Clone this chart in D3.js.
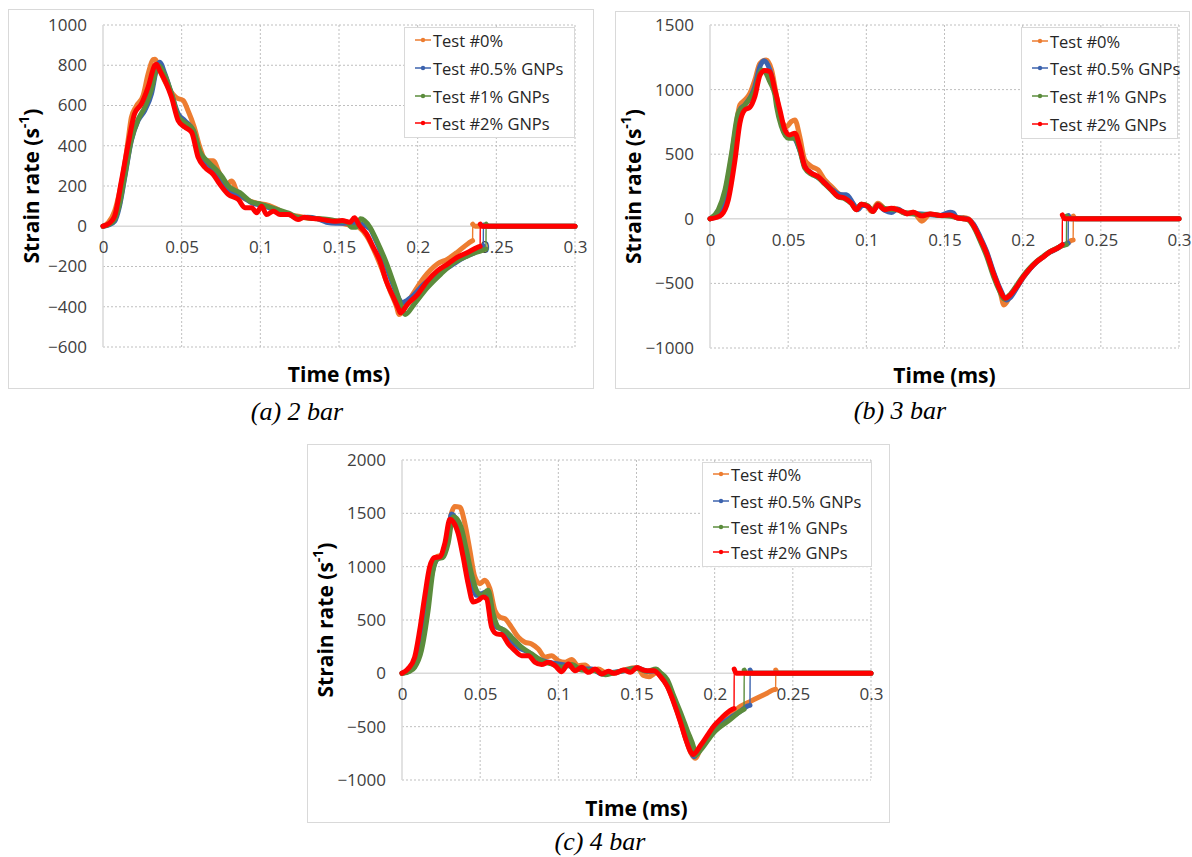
<!DOCTYPE html>
<html><head><meta charset="utf-8">
<script src="https://cdn.jsdelivr.net/npm/d3@7"></script>
<style>body{margin:0;background:#fff}svg{display:block}</style>
</head><body>
<svg id="c" width="1192" height="857"></svg>
<script>
const seriesNames = ["Test #0%", "Test #0.5% GNPs", "Test #1% GNPs", "Test #2% GNPs"];
const seriesColors = ["#ED7D31", "#3C63AE", "#5B8C3C", "#FF0000"];
const xTicks = [0, 0.05, 0.1, 0.15, 0.2, 0.25, 0.3];
const xTickLabels = ["0", "0.05", "0.1", "0.15", "0.2", "0.25", "0.3"];
const yTicksA = [1000, 800, 600, 400, 200, 0, -200, -400, -600];
const yTicksB = [1500, 1000, 500, 0, -500, -1000];
const yTicksC = [2000, 1500, 1000, 500, 0, -500, -1000];
const captions = ["(a) 2 bar", "(b) 3 bar", "(c) 4 bar"];
const xTitle = "Time (ms)";

// Panel (a) 2 bar
const a_0 = [[0,0],[0.0035,20],[0.0074,75],[0.0105,170],[0.0138,308],[0.016,430],[0.018,540],[0.021,595],[0.0255,650],[0.0287,758],[0.0318,828],[0.033,830],[0.036,775],[0.0414,690],[0.0467,638],[0.051,625],[0.054,575],[0.058,492],[0.0616,392],[0.0658,325],[0.070,325],[0.0743,258],[0.0786,208],[0.0817,225],[0.086,158],[0.0913,133],[0.0966,117],[0.103,108],[0.109,92],[0.118,58],[0.124,50],[0.13,40],[0.136,37],[0.142,30],[0.147,23],[0.152,15],[0.157,5],[0.16,3],[0.1675,-47],[0.176,-188],[0.1825,-322],[0.1868,-405],[0.188,-438],[0.1955,-355],[0.204,-255],[0.2125,-188],[0.219,-163],[0.225,-130],[0.2317,-88],[0.2349,-72],[0.235,10],[0.2365,0],[0.3,0]];
const a_05 = [[0,0],[0.004,8],[0.0074,25],[0.0105,100],[0.0138,242],[0.018,425],[0.0223,525],[0.0265,575],[0.0308,658],[0.034,780],[0.036,815],[0.0393,758],[0.0435,658],[0.0478,558],[0.052,525],[0.0573,475],[0.0616,358],[0.0669,308],[0.0732,258],[0.0796,175],[0.088,150],[0.0945,117],[0.103,100],[0.111,75],[0.118,60],[0.124,42],[0.13,45],[0.136,38],[0.142,20],[0.148,15],[0.155,15],[0.1598,15],[0.164,10],[0.1697,-13],[0.173,-63],[0.178,-155],[0.1835,-272],[0.189,-372],[0.190,-380],[0.1955,-355],[0.204,-288],[0.2125,-238],[0.221,-197],[0.2295,-155],[0.238,-122],[0.2417,-97],[0.2418,5],[0.243,0],[0.3,0]];
const a_1 = [[0,0],[0.004,10],[0.0074,35],[0.0105,110],[0.0138,250],[0.018,430],[0.0223,530],[0.0265,590],[0.0308,680],[0.0335,770],[0.035,800],[0.0393,750],[0.0435,660],[0.0478,545],[0.052,515],[0.0573,480],[0.0616,370],[0.0669,320],[0.0754,250],[0.0796,200],[0.087,167],[0.0945,120],[0.1,110],[0.106,95],[0.112,80],[0.118,65],[0.124,45],[0.13,42],[0.136,38],[0.142,35],[0.148,28],[0.155,22],[0.158,-5],[0.161,-5],[0.1637,37],[0.1697,-5],[0.174,-72],[0.1804,-188],[0.1857,-305],[0.190,-405],[0.192,-438],[0.1977,-388],[0.2062,-305],[0.2147,-238],[0.2232,-180],[0.2317,-147],[0.2402,-122],[0.2434,-113],[0.2435,10],[0.245,0],[0.3,0]];
const a_2 = [[0,0],[0.004,15],[0.0074,50],[0.0117,225],[0.016,408],[0.020,558],[0.0244,608],[0.0287,692],[0.033,800],[0.034,805],[0.036,775],[0.0403,708],[0.0435,642],[0.0478,525],[0.052,492],[0.0563,467],[0.0605,342],[0.0648,292],[0.070,258],[0.0743,208],[0.0796,158],[0.086,133],[0.0902,92],[0.0945,92],[0.0977,67],[0.1008,100],[0.104,58],[0.1083,75],[0.1125,58],[0.118,58],[0.124,33],[0.128,45],[0.132,40],[0.136,37],[0.142,30],[0.147,25],[0.152,28],[0.157,20],[0.1598,42],[0.163,3],[0.1675,-38],[0.1718,-105],[0.176,-172],[0.180,-272],[0.1847,-355],[0.188,-413],[0.189,-430],[0.1935,-388],[0.200,-338],[0.2062,-272],[0.2125,-222],[0.219,-188],[0.225,-155],[0.2317,-130],[0.238,-105],[0.2397,-100],[0.2398,10],[0.241,0],[0.3,0]];

// Panel (b) 3 bar
const b_0 = [[0,0],[0.004,30],[0.0074,95],[0.0117,327],[0.016,662],[0.0191,881],[0.0223,920],[0.0255,971],[0.0287,1075],[0.0319,1203],[0.036,1229],[0.0394,1152],[0.0426,946],[0.0457,765],[0.0489,714],[0.052,752],[0.0543,765],[0.0574,637],[0.0606,456],[0.0649,405],[0.0691,379],[0.0734,301],[0.0777,250],[0.0819,198],[0.0862,173],[0.0904,134],[0.0936,70],[0.0968,113],[0.100,108],[0.1032,57],[0.1074,121],[0.1128,70],[0.118,82],[0.1245,44],[0.130,51],[0.1355,-18],[0.1409,38],[0.1472,26],[0.1536,30],[0.1579,8],[0.1621,10],[0.1653,0],[0.1685,-45],[0.1728,-150],[0.177,-265],[0.1813,-420],[0.1855,-560],[0.188,-667],[0.192,-600],[0.1962,-530],[0.2004,-455],[0.2047,-385],[0.2089,-335],[0.2132,-295],[0.2174,-258],[0.2217,-232],[0.2249,-210],[0.2281,-192],[0.2313,-167],[0.2323,-165],[0.2324,20],[0.234,0],[0.3,0]];
const b_05 = [[0,0],[0.004,20],[0.0074,70],[0.0117,250],[0.016,585],[0.0191,843],[0.0223,881],[0.0287,1023],[0.0319,1178],[0.0347,1224],[0.0383,1152],[0.0426,920],[0.0468,688],[0.050,637],[0.0532,631],[0.0574,533],[0.0606,405],[0.0649,353],[0.0691,320],[0.0734,280],[0.0777,230],[0.084,186],[0.0872,186],[0.0915,121],[0.0947,70],[0.0975,105],[0.101,95],[0.1043,60],[0.1074,105],[0.1117,65],[0.116,49],[0.12,75],[0.1245,45],[0.13,40],[0.1355,38],[0.1409,32],[0.1472,26],[0.1536,51],[0.1558,45],[0.1579,8],[0.1621,5],[0.1653,-5],[0.1685,-40],[0.1728,-140],[0.177,-255],[0.1813,-410],[0.1855,-540],[0.1898,-628],[0.192,-610],[0.1962,-535],[0.2004,-452],[0.2047,-388],[0.2089,-335],[0.2132,-295],[0.2174,-258],[0.2217,-232],[0.2249,-207],[0.2291,-190],[0.2292,25],[0.231,0],[0.3,0]];
const b_1 = [[0,0],[0.0053,70],[0.0096,224],[0.0138,508],[0.018,817],[0.0223,881],[0.0287,997],[0.033,1152],[0.035,1140],[0.0383,1060],[0.0415,960],[0.0426,868],[0.0457,714],[0.050,624],[0.0543,624],[0.0574,533],[0.0606,392],[0.0649,345],[0.0691,320],[0.0734,270],[0.0777,220],[0.0819,170],[0.0862,155],[0.0904,118],[0.0936,72],[0.0968,112],[0.101,100],[0.1043,58],[0.1074,110],[0.1117,80],[0.116,72],[0.12,70],[0.1245,45],[0.13,38],[0.1355,30],[0.1409,35],[0.1472,25],[0.1536,20],[0.1579,10],[0.1621,0],[0.1653,-10],[0.1685,-60],[0.1728,-170],[0.177,-290],[0.1813,-445],[0.1855,-565],[0.188,-620],[0.192,-585],[0.1962,-515],[0.2004,-440],[0.2047,-378],[0.2089,-330],[0.2132,-290],[0.2174,-255],[0.2217,-228],[0.2249,-210],[0.228,-200],[0.2281,20],[0.2295,0],[0.3,0]];
const b_2 = [[0,0],[0.004,10],[0.0074,31],[0.0117,147],[0.016,456],[0.0191,740],[0.0223,843],[0.0255,863],[0.0287,946],[0.032,1113],[0.035,1147],[0.0383,1139],[0.0415,997],[0.0447,843],[0.0479,688],[0.051,649],[0.0543,662],[0.0574,559],[0.0606,405],[0.0649,353],[0.0691,327],[0.0734,276],[0.0777,224],[0.0819,173],[0.0862,160],[0.0904,121],[0.0936,70],[0.0968,113],[0.101,95],[0.1043,57],[0.1074,108],[0.1117,70],[0.116,82],[0.120,70],[0.1245,49],[0.126,38],[0.130,51],[0.1355,22],[0.1409,38],[0.1472,26],[0.1536,30],[0.1579,8],[0.1621,0],[0.1653,-5],[0.1685,-51],[0.1728,-154],[0.177,-269],[0.1813,-423],[0.1855,-551],[0.1887,-615],[0.192,-590],[0.1962,-526],[0.2004,-449],[0.2047,-385],[0.2089,-333],[0.2132,-295],[0.2174,-256],[0.2217,-231],[0.2249,-205],[0.2253,-200],[0.2254,30],[0.227,0],[0.3,0]];

// Panel (c) 4 bar
const c_0 = [[0,0],[0.003,15],[0.006,57],[0.0103,245],[0.0145,590],[0.0188,998],[0.022,1092],[0.0252,1108],[0.0284,1249],[0.0316,1500],[0.0338,1563],[0.037,1557],[0.0402,1406],[0.0434,1155],[0.0466,904],[0.0498,841],[0.053,873],[0.0562,794],[0.0594,590],[0.0626,527],[0.0658,512],[0.070,433],[0.0744,339],[0.0786,292],[0.0829,276],[0.0872,229],[0.0915,151],[0.0957,166],[0.100,119],[0.1043,104],[0.1085,129],[0.1128,72],[0.1171,78],[0.1214,25],[0.1256,41],[0.13,9],[0.1355,0],[0.1419,31],[0.1504,55],[0.1545,-20],[0.158,-31],[0.1632,10],[0.1654,-30],[0.1697,-120],[0.1739,-270],[0.1782,-455],[0.1814,-610],[0.1846,-740],[0.1878,-797],[0.191,-700],[0.1996,-521],[0.2081,-414],[0.2167,-307],[0.2231,-261],[0.2295,-215],[0.2338,-184],[0.238,-153],[0.239,-150],[0.2391,30],[0.2405,0],[0.3,0]];
const c_05 = [[0,0],[0.005,25],[0.0081,72],[0.0124,276],[0.0156,559],[0.0188,904],[0.022,1061],[0.0263,1108],[0.0295,1281],[0.0316,1494],[0.0348,1438],[0.038,1312],[0.0412,1092],[0.0444,873],[0.0476,731],[0.0509,747],[0.0541,763],[0.0573,527],[0.0605,433],[0.0637,417],[0.068,339],[0.0744,245],[0.0808,198],[0.0872,135],[0.0936,104],[0.1,88],[0.1064,72],[0.1128,41],[0.1214,41],[0.1278,-6],[0.1355,10],[0.1419,25],[0.1504,50],[0.1568,20],[0.1632,25],[0.1654,-25],[0.1697,-115],[0.1739,-260],[0.1782,-445],[0.1814,-600],[0.1846,-725],[0.1868,-782],[0.191,-690],[0.1996,-537],[0.2103,-414],[0.2167,-353],[0.2209,-307],[0.2226,-300],[0.2227,30],[0.224,0],[0.3,0]];
const c_1 = [[0,0],[0.005,20],[0.0081,57],[0.0124,213],[0.0167,590],[0.0199,967],[0.0231,1077],[0.0263,1086],[0.0295,1218],[0.0327,1469],[0.0348,1453],[0.038,1359],[0.0412,1155],[0.0444,935],[0.0476,778],[0.0509,731],[0.0551,778],[0.0583,559],[0.0615,433],[0.0658,402],[0.0701,339],[0.0765,245],[0.0829,182],[0.0893,119],[0.0957,88],[0.1021,57],[0.1085,82],[0.1149,31],[0.1235,25],[0.1299,-13],[0.1355,5],[0.1419,25],[0.1504,45],[0.1568,20],[0.1625,40],[0.1654,5],[0.1697,-60],[0.1739,-215],[0.1782,-368],[0.1825,-537],[0.1868,-705],[0.1878,-767],[0.191,-720],[0.1996,-552],[0.2103,-429],[0.2167,-353],[0.2188,-337],[0.2189,30],[0.2205,0],[0.3,0]];
const c_2 = [[0,0],[0.0038,41],[0.0081,151],[0.0113,402],[0.0145,716],[0.0177,998],[0.0209,1086],[0.0241,1092],[0.0274,1218],[0.0306,1444],[0.0327,1422],[0.0359,1312],[0.0391,1092],[0.0423,841],[0.0455,669],[0.0487,684],[0.0519,716],[0.0541,700],[0.0573,433],[0.0605,370],[0.0637,364],[0.068,276],[0.0722,213],[0.0765,166],[0.0808,166],[0.085,104],[0.0893,82],[0.0936,104],[0.0979,72],[0.1021,16],[0.1064,88],[0.1107,25],[0.115,57],[0.1192,9],[0.1235,41],[0.1278,-6],[0.132,20],[0.1355,0],[0.1419,31],[0.1462,10],[0.1504,55],[0.1545,30],[0.1568,25],[0.1611,25],[0.1654,-31],[0.1697,-123],[0.1739,-276],[0.1782,-460],[0.1814,-613],[0.1846,-736],[0.1862,-760],[0.191,-675],[0.1953,-583],[0.1996,-491],[0.2038,-429],[0.2081,-368],[0.2113,-337],[0.2124,-330],[0.2125,40],[0.214,0],[0.3,0]];

// ---------- layout ----------
const panels = [
  {series:[a_0,a_05,a_1,a_2], yTicks:yTicksA, yDom:[-600,1000], caption:captions[0],
   box:[8.5,9.5,585,379], plot:[103,575,25,347], legend:[404,27,170,110], rowY:[40,68,96,123],
   yTitleX:31, xTitleY:374, capX:297, capY:411},
  {series:[b_0,b_05,b_1,b_2], yTicks:yTicksB, yDom:[-1000,1500], caption:captions[1],
   box:[615.5,11.5,574,377], plot:[710,1179,25,348], legend:[1021,27,156,111], rowY:[41,68,96,124],
   yTitleX:633, xTitleY:375, capX:900, capY:410},
  {series:[c_0,c_05,c_1,c_2], yTicks:yTicksC, yDom:[-1000,2000], caption:captions[2],
   box:[307.5,444.5,582,378], plot:[402,871,460,780], legend:[702,462,169,104], rowY:[474,501,527,552],
   yTitleX:325, xTitleY:808, capX:600, capY:841}
];

const svg = d3.select("#c");
const font = "'Open Sans', 'Noto Sans', sans-serif";

panels.forEach(p => {
  const g = svg.append("g");
  g.append("rect").attr("x",p.box[0]).attr("y",p.box[1]).attr("width",p.box[2]).attr("height",p.box[3])
    .attr("fill","#fff").attr("stroke","#d9d9d9").attr("stroke-width",1);
  const [x0,x1,yT,yB] = p.plot;
  const x = d3.scaleLinear().domain([0,0.3]).range([x0,x1]);
  const y = d3.scaleLinear().domain(p.yDom).range([yB,yT]);

  // gridlines
  g.selectAll(".vg").data(xTicks.filter(t=>t!==0)).join("line")
    .attr("x1",d=>x(d)).attr("x2",d=>x(d)).attr("y1",yT).attr("y2",yB)
    .attr("stroke","#bfbfbf").attr("stroke-width",1).attr("stroke-dasharray","2,2");
  g.selectAll(".hg").data(p.yTicks.filter(t=>t!==0)).join("line")
    .attr("x1",x0).attr("x2",x1).attr("y1",d=>y(d)).attr("y2",d=>y(d))
    .attr("stroke","#bfbfbf").attr("stroke-width",1).attr("stroke-dasharray","2,2");
  // axis lines
  g.append("line").attr("x1",x0).attr("x2",x0).attr("y1",yT).attr("y2",yB).attr("stroke","#d9d9d9").attr("stroke-width",1.5);
  g.append("line").attr("x1",x0).attr("x2",x1).attr("y1",y(0)).attr("y2",y(0)).attr("stroke","#d9d9d9").attr("stroke-width",1.5);

  // y axis labels
  const ya = d3.axisLeft(y).tickValues(p.yTicks).tickSize(0).tickPadding(16).tickFormat(d3.format("d"));
  const yg = g.append("g").attr("transform",`translate(${x0},0)`).call(ya);
  yg.select(".domain").remove();
  yg.selectAll("text").attr("font-family",font).attr("font-size",17).attr("fill","#404040");
  // x axis labels at zero line
  const xa = d3.axisBottom(x).tickValues(xTicks).tickSize(0).tickPadding(15).tickFormat((d,i)=>xTickLabels[i]);
  const xg = g.append("g").attr("transform",`translate(0,${y(0)})`).call(xa);
  xg.select(".domain").remove();
  xg.selectAll("text").attr("font-family",font).attr("font-size",17).attr("fill","#404040");

  // series
  const line = d3.line().x(d=>x(d[0])).y(d=>y(d[1])).curve(d3.curveMonotoneX);
  p.series.forEach((s,i) => {
    g.append("path").attr("d",line(s)).attr("fill","none").attr("stroke",seriesColors[i]).attr("stroke-width",1.4);
    const segs = []; let cur = [s[0]];
    for (let k=1;k<s.length;k++){
      if (s[k][0]-s[k-1][0] < 0.0005 && Math.abs(s[k][1]-s[k-1][1])>40){ segs.push(cur); cur=[s[k]]; }
      else cur.push(s[k]);
    }
    segs.push(cur);
    segs.forEach(sg => {
      g.append("path").attr("d",line(sg)).attr("fill","none").attr("stroke",seriesColors[i])
        .attr("stroke-width",5).attr("stroke-linejoin","round").attr("stroke-linecap","round");
    });
  });

  // legend
  const [lx,ly,lw,lh] = p.legend;
  g.append("rect").attr("x",lx+0.5).attr("y",ly+0.5).attr("width",lw).attr("height",lh)
    .attr("fill","#fff").attr("stroke","#d9d9d9");
  seriesNames.forEach((nm,i)=>{
    const ry = p.rowY[i];
    g.append("line").attr("x1",lx+11).attr("x2",lx+27).attr("y1",ry).attr("y2",ry)
      .attr("stroke",seriesColors[i]).attr("stroke-width",1.5);
    g.append("circle").attr("cx",lx+19).attr("cy",ry).attr("r",2.2).attr("fill",seriesColors[i]);
    g.append("text").attr("x",lx+29).attr("y",ry).attr("dominant-baseline","central")
      .attr("font-family",font).attr("font-size",16.5).attr("fill","#262626").text(nm);
  });

  // axis titles
  const yt = g.append("text").attr("transform",`translate(${p.yTitleX},${(yT+yB)/2}) rotate(-90)`)
    .attr("text-anchor","middle").attr("dominant-baseline","central")
    .attr("font-family",font).attr("font-size",21).attr("font-weight","bold").attr("fill","#000");
  yt.append("tspan").text("Strain rate (s");
  yt.append("tspan").attr("dy",-8).attr("font-size",14).text("-1");
  yt.append("tspan").attr("dy",8).text(")");
  g.append("text").attr("x",(x0+x1)/2).attr("y",p.xTitleY).attr("text-anchor","middle").attr("dominant-baseline","central")
    .attr("font-family",font).attr("font-size",21).attr("font-weight","bold").attr("fill","#000").text(xTitle);
  // caption
  svg.append("text").attr("x",p.capX).attr("y",p.capY).attr("text-anchor","middle").attr("dominant-baseline","central")
    .attr("font-family","'Liberation Serif', 'Times New Roman', serif").attr("font-style","italic")
    .attr("font-size",26).attr("fill","#000").text(p.caption);
});
</script>
</body></html>
